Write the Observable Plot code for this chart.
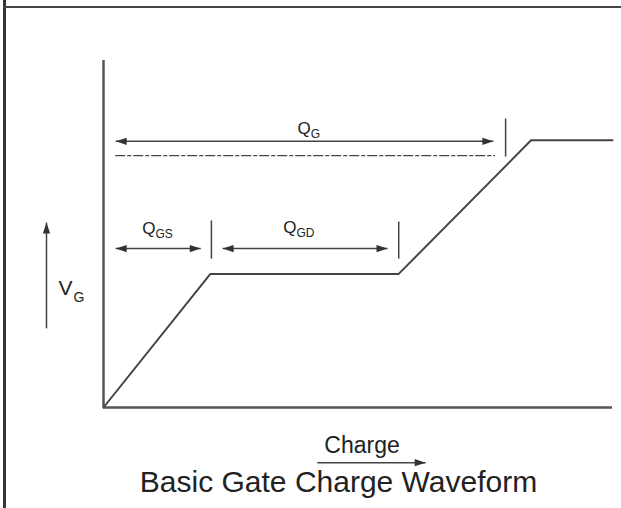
<!DOCTYPE html>
<html>
<head>
<meta charset="utf-8">
<script src="https://cdn.jsdelivr.net/npm/d3@7"></script>
<script src="https://cdn.jsdelivr.net/npm/@observablehq/plot@0.6"></script>
<style>
  body { margin: 0; background: #fff; }
  #wrap { position: relative; width: 621px; height: 508px; overflow: hidden; font-family: "Liberation Sans", Arial, sans-serif; }
  #vline { position: absolute; left: 3px; top: 0; width: 3px; height: 508px; background: #333; }
  #hline { position: absolute; left: 3px; top: 6px; width: 618px; height: 2px; background: #444; }
  #chart { position: absolute; left: 0; top: 0; }
  #title { position: absolute; left: 0; width: 677px; top: 467px; text-align: center; font-size: 30px; line-height: 30px; color: #222; white-space: nowrap; }
</style>
</head>
<body>
<div id="wrap">
  <div id="chart"></div>
  <div id="vline"></div>
  <div id="hline"></div>
  <div id="title">Basic Gate Charge Waveform</div>
</div>
<script>
// ---- Waveform: gate charge (arbitrary units 0–100) vs gate voltage (0–10) ----
const charge = [0, 21, 58, 84, 100];
const vGate  = [0, 3.85, 3.85, 7.7, 7.7];
const chargeMax = 100;
const vGateMax = 10;

// ---- Charge intervals Q_G, Q_GS, Q_GD ----
const spanSub    = ["G", "GS", "GD"];
const spanStart  = [2.4, 2.4, 23.4];
const spanEnd    = [76.6, 19.1, 55.8];
const spanLevel  = [7.67, 4.58, 4.58];
const labelX     = [40.7, 10.2, 37.9];
const labelY     = [7.87, 5.01, 5.04];
const tickX      = [79.0, 21.2, 58.0];
const tickTop    = [8.33, 5.39, 5.36];
const tickBottom = [7.23, 4.29, 4.29];
const dashStart = 2.4, dashEnd = 77.0, dashLevel = 7.26;

// ---- Axis annotations ----
const vArrowX = -11.2, vArrowFrom = 2.28, vArrowTo = 5.33;
const vLabelX = -6.1, vLabelY = 3.23;
const qArrowY = -1.59, qArrowFrom = 42.0, qArrowTo = 63.3;
const qLabelX = 50.8, qLabelY = -1.3;
const chargeLabel = "Charge";

// tables built from the arrays
const wave = charge.map((c, i) => ({q: c, v: vGate[i]}));
const spans = spanSub.map((s, i) => ({sub: s, x1: spanStart[i], x2: spanEnd[i], y: spanLevel[i],
  lx: labelX[i], ly: labelY[i], tx: tickX[i], t1: tickTop[i], t2: tickBottom[i]}));
const heads = [];
spans.forEach(s => { heads.push({x: s.x1, y: s.y, rot: -90}); heads.push({x: s.x2, y: s.y, rot: 90}); });
heads.push({x: vArrowX, y: vArrowTo, rot: 0});
heads.push({x: qArrowTo, y: qArrowY, rot: 90});
const shafts = spans.map(s => ({x1: s.x1, x2: s.x2, y1: s.y, y2: s.y}))
  .concat([{x1: vArrowX, x2: vArrowX, y1: vArrowFrom, y2: vArrowTo},
           {x1: qArrowFrom, x2: qArrowTo, y1: qArrowY, y2: qArrowY}]);

// filled arrowhead symbol, tip at the anchor point, pointing up before rotation
const arrowHead = {
  draw(context, size) {
    const r = Math.sqrt(size / Math.PI);
    const w = r * 0.33;
    context.moveTo(0, 0);
    context.lineTo(w, r);
    context.lineTo(-w, r);
    context.closePath();
  }
};

const ink = "#444";
const txt = "#222";
const font = "Liberation Sans, Arial, sans-serif";

const plot = Plot.plot({
  width: 621,
  height: 508,
  marginLeft: 103,
  marginRight: 9,
  marginTop: 60,
  marginBottom: 101,
  x: {domain: [0, chargeMax], axis: null},
  y: {domain: [0, vGateMax], axis: null},
  style: {fontFamily: font, background: "transparent"},
  marks: [
    // axes
    Plot.ruleX([0], {y1: 0, y2: vGateMax, stroke: "#555", strokeWidth: 2.5}),
    Plot.ruleY([0], {x1: 0, x2: chargeMax, stroke: "#555", strokeWidth: 2.5}),
    // waveform
    Plot.line(wave, {x: "q", y: "v", stroke: ink, strokeWidth: 2, curve: "linear"}),
    // dash-dot reference level
    Plot.ruleY([dashLevel], {x1: dashStart, x2: dashEnd, stroke: ink, strokeWidth: 1.3, strokeDasharray: "10,2,4,2"}),
    // interval ticks
    Plot.link(spans, {x1: "tx", x2: "tx", y1: "t1", y2: "t2", stroke: ink, strokeWidth: 1.5}),
    // arrow shafts
    Plot.link(shafts, {x1: "x1", x2: "x2", y1: "y1", y2: "y2", stroke: ink, strokeWidth: 1.5}),
    // arrow heads
    Plot.dot(heads, {x: "x", y: "y", rotate: "rot", symbol: arrowHead, r: 11, fill: "#333", stroke: "none"}),
    // Q labels
    Plot.text(spans, {x: "lx", y: "ly", text: () => "Q", textAnchor: "end", lineAnchor: "bottom", fontSize: 17, fill: txt}),
    Plot.text(spans, {x: "lx", y: "ly", text: "sub", textAnchor: "start", lineAnchor: "bottom", fontSize: 12, dy: 4, fill: txt}),
    // V_G label
    Plot.text([{x: vLabelX, y: vLabelY}], {x: "x", y: "y", text: () => "V", textAnchor: "end", lineAnchor: "bottom", fontSize: 21, fill: txt}),
    Plot.text([{x: vLabelX, y: vLabelY}], {x: "x", y: "y", text: () => "G", textAnchor: "start", lineAnchor: "bottom", fontSize: 14, dy: 7, dx: 1, fill: txt}),
    // Charge label
    Plot.text([{x: qLabelX, y: qLabelY}], {x: "x", y: "y", text: () => chargeLabel, textAnchor: "middle", lineAnchor: "bottom", fontSize: 23, fill: txt})
  ]
});
document.getElementById("chart").appendChild(plot);
</script>
</body>
</html>
